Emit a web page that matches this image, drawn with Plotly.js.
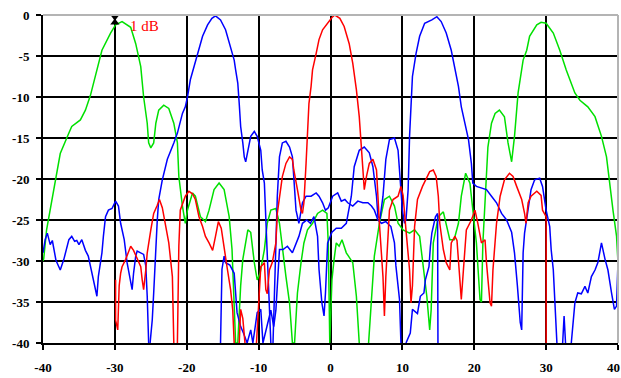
<!DOCTYPE html>
<html>
<head>
<meta charset="utf-8">
<script src="https://cdn.plot.ly/plotly-3.0.1.min.js"></script>
<style>html,body{margin:0;padding:0;background:#fff;}#chart{width:621px;height:378px;}</style>
</head>
<body>
<div id="chart"></div>
<script>
// ---- data (angle in degrees, level in dB) ----
const xTickVals = [-40, -30, -20, -10, 0, 10, 20, 30, 40];
const xTickText = ['-40', '-30', '-20', '-10', '0', '10', '20', '30', '40'];
const yTickVals = [-40, -35, -30, -25, -20, -15, -10, -5, 0];
const yTickText = ['-40', '-35', '-30', '-25', '-20', '-15', '-10', '-5', '0'];

const greenX = [-40,-39.9,-39.5,-39.0,-38.3,-37.6,-36.4,-36.0,-34.8,-34.1,-33.4,-32.7,-31.8,-30.6,-29.9,-29.0,-27.8,-27.1,-26.4,-26.0,-25.5,-25.3,-25.0,-24.6,-24.3,-23.9,-23.2,-22.5,-21.8,-21.3,-21.1,-20.6,-20.2,-19.9,-19.2,-18.8,-18.1,-17.4,-16.9,-16.2,-15.5,-14.8,-14.1,-13.7,-13.5,-13.2,-12.9,-12.5,-12.2,-11.5,-11.1,-10.6,-10.2,-9.8,-9.2,-8.8,-8.3,-7.6,-7.1,-6.7,-6.2,-5.7,-5.3,-5.0,-4.6,-4.1,-3.7,-3.2,-2.5,-1.8,-1.1,-0.5,-0.3,-0.1,0.2,0.5,0.8,1.2,1.6,2.2,3.1,3.6,4.0,null,5.3,5.7,6.1,6.8,7.5,8.2,8.9,9.4,10.1,11.0,11.7,12.4,12.8,13.4,13.8,14.0,14.3,15.0,15.7,16.1,16.6,17.2,17.8,18.2,18.8,19.4,19.8,20.3,20.8,21.0,21.2,21.7,21.9,22.4,22.9,23.5,24.2,24.7,25.2,25.6,26.1,26.8,27.3,27.7,28.7,29.3,30.0,31.0,31.9,32.8,34.0,34.7,35.8,36.8,37.2,37.7,38.4,38.8,39.3,39.8,40.0];
const greenY = [-30,-29.7,-26.2,-23.8,-20.1,-16.9,-14.4,-13.6,-12.8,-11.6,-9.8,-7.5,-4.3,-2.2,-1.2,-0.8,-1.5,-3.5,-6.3,-10.0,-13.2,-15.6,-16.2,-15.6,-13.2,-11.6,-11.0,-11.4,-13.2,-15.6,-19.7,-23.3,-25.4,-23.8,-21.7,-22.1,-24.6,-25.2,-23.8,-21.3,-20.5,-21.3,-24.6,-28.6,-34,-40,-40,-33,-29.8,-26.2,-26.5,-30.2,-32.3,-31.5,-28.6,-25.4,-23.8,-23.6,-25.4,-28.6,-31.9,-35.1,-40,-40,-33.9,-30.2,-27.8,-26.2,-25.4,-24.2,-23.8,-24.2,-28,-40,-32.3,-29.8,-27.8,-28.2,-27.4,-29,-30.2,-34.3,-40,null,-40,-33.9,-29.4,-25.4,-22.5,-22.1,-23.3,-25.4,-26.2,-26.6,-26.2,-27,-30.2,-34.3,-38.4,-36,-27.8,-24.6,-24,-25.4,-27.4,-27.4,-25.4,-22.1,-19.3,-20.5,-23.8,-27.8,-34.7,-35,-27.8,-20.5,-16.1,-13.2,-12.0,-11.6,-12.4,-15.6,-17.9,-14.8,-9.5,-5.5,-4.3,-2.6,-1.2,-0.9,-1.0,-2.2,-4.3,-6.7,-9.5,-10.4,-11.2,-12.4,-13.4,-14.8,-17.3,-20.5,-23.8,-27,-30.2];

const redX = [-29.9,-29.9,-29.6,-29.4,-29.2,-29.0,-28.5,-28.0,-27.8,-27.4,-26.9,-26.4,-26.2,-26.0,-25.7,-25.5,-25.0,-24.6,-24.1,-23.8,-23.4,-22.9,-22.5,-22.0,-21.8,null,-21.3,-21.1,-20.9,-20.2,-19.7,-19.2,-18.8,-18.3,-17.8,-17.4,-16.9,-16.4,-16.0,-15.6,-15.2,-14.8,-14.4,-13.9,-13.6,-13.4,null,-12.7,-12.5,-12.2,-11.9,null,-10.3,-9.9,-9.7,-9.2,-9.0,-8.8,-8.5,-8.1,-7.6,-7.4,-7.1,-6.7,-6.2,-5.7,-5.3,-5.1,-4.6,-4.1,-3.9,-3.7,-3.4,-3.2,-3.0,-2.7,-2.5,-2.0,-1.6,-1.1,-0.4,0.2,0.6,1.3,1.9,2.6,3.1,3.6,4.0,4.3,4.5,4.7,5.0,5.4,5.9,6.4,6.6,6.8,7.3,7.5,7.7,8.2,8.7,9.4,9.8,10.1,10.5,11.0,11.2,11.4,11.7,12.1,12.8,13.4,13.8,14.3,14.7,15.0,15.2,15.7,16.1,16.6,16.8,17.3,17.6,17.9,18.2,18.5,18.9,19.6,20.1,20.5,21.0,21.5,21.7,22.2,22.4,22.6,23.1,23.6,24.2,24.9,25.4,25.9,26.6,27.0,27.2,27.5,27.9,28.7,29.3,29.5,30.0,30.0];
const redY = [-32.3,-37.2,-38.4,-33,-31.5,-30.7,-29.8,-28.7,-28.2,-28.7,-29.8,-30.7,-32.3,-33.5,-31.1,-29,-26.2,-24.2,-23.2,-22.5,-23.5,-25.8,-27.8,-31.9,-40,null,-40,-28.2,-23.8,-22.1,-21.5,-21.8,-22.5,-24.6,-25.8,-27,-27.8,-28.7,-27,-25.2,-26,-28.6,-30.7,-33.5,-36,-40,null,-40,-35.9,-37,-40,null,-40,-33.9,-30.7,-30.2,-33.5,-34,-31.1,-30.2,-27.8,-24.2,-22.1,-19.7,-18.1,-17.3,-17.6,-18.9,-21.3,-23.8,-24.2,-22.9,-18.1,-14.8,-10.8,-8.7,-6.7,-4.7,-3.0,-1.8,-1.0,-0.3,0,-0.4,-1.4,-3.5,-5.9,-9.1,-12.4,-16.5,-19.7,-21.3,-19.7,-18.1,-17.6,-18.9,-22.1,-25.4,-31.9,-36.7,-31.9,-23.8,-22.5,-22.1,-20.9,-22,-26.2,-31.1,-35.1,-33,-25.8,-22.5,-20.9,-19.7,-19.1,-18.9,-19.7,-22.1,-25.4,-28.6,-30.2,-31.1,-27.8,-27,-27.5,-31.1,-34.7,-31,-26.2,-25,-23.8,-25.4,-27.8,-27.4,-30.2,-35.1,-35.5,-31.1,-25.4,-22.1,-20.1,-19.3,-19.7,-20.9,-22.5,-24.2,-25.4,-22.9,-22.1,-21.5,-22,-23.8,-24.6,-40];

// blue, beam steered to about -16 deg
const blueAX = [-40,-39.7,-39.4,-39.0,-38.7,-38.5,-38.2,-37.8,-37.6,-37.1,-36.6,-36.4,-36.0,-35.6,-35.3,-35.0,-34.6,-34.1,-33.7,-33.2,-32.7,-32.5,-32.3,-31.8,-31.6,-31.3,-30.9,-30.4,-29.9,-29.5,-29.2,-28.7,-28.3,-27.8,-27.6,-27.4,-27.1,-26.9,-26.4,-26.0,-25.7,-25.5,-25.3,null,-25.1,-24.8,-24.6,-24.3,-24.1,-23.9,-23.6,-23.4,-22.7,-22.3,-21.8,-21.3,-20.6,-20.2,-19.9,-19.5,-19.0,-18.5,-17.8,-17.1,-16.5,-16.0,-15.3,-14.6,-13.9,-13.4,-13.2,-12.9,-12.7,-12.5,-12.2,-12.0,-11.8,-11.5,-11.1,-10.6,-10.2,-9.7,-9.5,-9.2,-9.0,-8.8,-8.5,-8.3];
const blueAY = [-29,-27.4,-26.6,-28,-27.5,-28.7,-29.9,-30.7,-31.1,-29.8,-27.8,-27.4,-27.0,-27.6,-27.5,-28,-27.4,-28.7,-29.4,-31.5,-33.9,-34.3,-31.9,-29,-27,-24.6,-23.8,-23.6,-22.7,-23.3,-25.4,-27.4,-30.2,-32.7,-33.5,-31.5,-29.4,-28.8,-29,-29.2,-30.6,-34.3,-40,null,-40,-37.2,-33.9,-28,-25,-22.5,-20.9,-20.1,-17.6,-16.8,-15.6,-14.4,-12.0,-11.2,-10.0,-7.9,-6.3,-4.7,-2.6,-1.2,-0.4,-0.1,-0.6,-1.8,-3.9,-5.5,-6.7,-8.3,-10.8,-13.6,-15.6,-17.3,-17.9,-16.5,-14.8,-14.2,-14.8,-16.5,-18.9,-20.5,-24.6,-27.8,-35.9,-40];

const blueCX = [-8.0,-7.8,-7.6,-7.4,-7.1,-6.7,-6.2,-5.7,-5.3,-5.1,-4.8,-4.6,-4.4,-3.9,-3.4,-2.7,-2.0,-1.6,-1.1,-0.7,-0.3,0.3,1.0,1.5,2.0,2.4,3.1,3.8,4.5,5.2,5.7,6.1,6.6,7.1,7.7,8.4,8.9,9.1,9.6,9.8];
const blueCY = [-40,-33.9,-27.8,-22.1,-17.3,-15.6,-15.4,-16.1,-17.3,-20.5,-23.8,-24.6,-25.4,-22.9,-22.1,-22.1,-21.7,-22.1,-22.9,-23.8,-23.5,-22.1,-21.7,-22.7,-22.5,-22.9,-23.3,-22.7,-22.9,-22.9,-23.3,-23.8,-25,-25.4,-25.2,-25.8,-27.8,-30.6,-34.7,-40];

const blueDX = [10.5,11.1,11.4,12.1,12.5,13.0,13.2,13.7,13.9,14.1,14.6,14.9,14.95];
const blueDY = [-40,-38.8,-35.9,-36.4,-34.3,-33.9,-32.3,-30.7,-28.2,-26.6,-24.6,-24.2,-40];

// blue, beam steered to about +15 deg
const blueBX = [-15.3,-15.1,-14.8,-14.6,-14.0,-13.4,-13.0,-12.5,-12.1,-11.6,-11.1,-10.8,-10.2,-9.7,-9.4,-8.8,-8.3,-7.9,-7.6,-7.1,-6.6,-6.0,-5.3,-4.4,-3.9,-3.3,-2.8,-2.3,-1.8,-1.6,-1.2,-0.9,-0.7,-0.4,0.2,0.8,1.5,2.2,2.9,3.3,4.0,4.7,5.4,5.9,6.4,6.6,6.9,7.3,7.7,8.2,8.9,9.4,9.7,10.0,10.3,10.5,10.8,11.0,11.4,11.9,12.4,13.1,14.1,14.8,15.4,16.1,16.8,17.3,17.8,18.2,18.7,19.2,19.6,19.8,20.3,21.0,21.7,22.4,23.1,23.8,24.5,25.2,25.6,26.0,26.4,26.6,26.8,27.0,27.5,27.9,28.4,29.1,29.5,30.0,30.5,30.7,31.0,31.2,31.5];
const blueBY = [-40,-31,-29.4,-30.2,-30.5,-31.5,-36.3,-38,-38.8,-40,-38.4,-40,-36.3,-35.9,-40,-38,-36,-38,-36,-28.6,-28.6,-28.2,-29,-27,-25.4,-25,-25.4,-24.6,-27,-31,-35.1,-36.7,-33.9,-27.8,-26.5,-26,-26,-25.4,-22.1,-18.5,-16.5,-16.1,-16.8,-18.5,-22.1,-24.6,-24.8,-22.1,-17.6,-15.2,-15.0,-16.5,-19.7,-23.8,-25.4,-25,-21.3,-14.8,-7.5,-4.7,-2.6,-1.0,-0.6,-0.2,-0.8,-2.2,-4.3,-6.3,-8.7,-11.2,-13.2,-15.2,-18.1,-20.5,-20.9,-21.1,-21.3,-22.1,-22.9,-24.2,-25,-26.5,-29,-33,-37.5,-38.4,-29,-26.6,-23.8,-21.3,-20.1,-19.9,-20.9,-23.8,-25.8,-28.6,-31.1,-35.1,-40];

const blueEX = [32.3,32.5,32.7,null,33.5,33.8,34.0,34.4,34.9,35.4,35.8,36.3,36.8,37.2,37.7,38.2,38.6,39.1,39.5,39.8,40.0];
const blueEY = [-40,-36.7,-40,null,-40,-36.3,-35.1,-33.9,-34,-33.1,-33.9,-31.9,-31.1,-30.2,-27.8,-29.8,-31.1,-33.9,-35.9,-35.5,-30];

// 1 dB marker at the green peak
const markX = [-30, -30];
const markY = [-0.2, -0.9];
const noteText = '1 dB';

// ---- plot ----
const lw = 1.5;
function line(x, y, color) {
  return {x: x, y: y, type: 'scatter', mode: 'lines', line: {color: color, width: lw}, connectgaps: false, hoverinfo: 'skip'};
}
const traces = [
  line(greenX, greenY, '#00e000'),
  line(blueAX, blueAY, '#0000ff'),
  line(blueCX, blueCY, '#0000ff'),
  line(blueDX, blueDY, '#0000ff'),
  line(blueBX, blueBY, '#0000ff'),
  line(blueEX, blueEY, '#0000ff'),
  line(redX, redY, '#ff0000'),
  {x: markX, y: markY, type: 'scatter', mode: 'lines+markers', line: {color: '#000', width: 2},
   marker: {symbol: ['triangle-down', 'triangle-up'], size: 8, color: '#000'}, hoverinfo: 'skip', cliponaxis: false}
];

const labelFamily = 'Liberation Serif, Times New Roman, serif';
const tickFont = {family: labelFamily, size: 13, color: '#000', weight: 700};
const axisCommon = {
  showgrid: true, gridcolor: '#000', gridwidth: 2, zeroline: false,
  showline: true, linecolor: '#000', linewidth: 2,
  ticks: 'outside', ticklen: 5, tickwidth: 2, tickcolor: '#000',
  tickmode: 'array', tickfont: tickFont, fixedrange: true,
  ticklabeloverflow: 'allow'
};

// the last x label sits at the right edge: draw it right-aligned so it stays inside the page
const lastIdx = xTickText.length - 1;
const xShownText = xTickText.map((t, i) => i === lastIdx ? '' : t);

const layout = {
  width: 621, height: 378,
  margin: {l: 43, r: 3, t: 15, b: 35},
  paper_bgcolor: '#ffffff', plot_bgcolor: '#ffffff',
  showlegend: false,
  xaxis: Object.assign({}, axisCommon, {range: [-40, 40], tickvals: xTickVals, ticktext: xShownText, ticklabelstandoff: 6}),
  yaxis: Object.assign({}, axisCommon, {range: [-40, 0], tickvals: yTickVals, ticktext: yTickText, ticklabelstandoff: 4}),
  shapes: [
    {type: 'line', xref: 'paper', yref: 'paper', x0: 0, x1: 1, y0: 1, y1: 1, line: {color: '#b4b4b4', width: 2}, layer: 'above'},
    {type: 'line', xref: 'paper', yref: 'paper', x0: 1, x1: 1, y0: 0, y1: 1, line: {color: '#b4b4b4', width: 2}, layer: 'above'}
  ],
  annotations: [
    {x: -28.2, y: -1.35, xref: 'x', yref: 'y', text: noteText, showarrow: false, xanchor: 'left', yanchor: 'middle',
     font: {family: labelFamily, size: 15, color: '#ff0000'}},
    {x: xTickVals[lastIdx], y: -0.076, xref: 'x', yref: 'paper', text: xTickText[lastIdx], showarrow: false,
     xanchor: 'right', yanchor: 'middle', xshift: 4, font: tickFont}
  ]
};

Plotly.newPlot('chart', traces, layout, {staticPlot: true, displayModeBar: false});
</script>
</body>
</html>
